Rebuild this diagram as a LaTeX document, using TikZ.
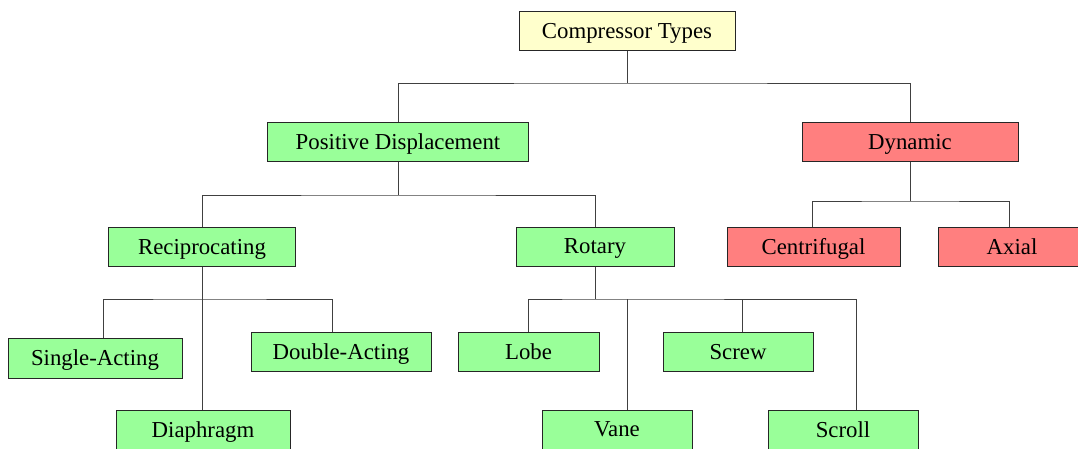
\documentclass[tikz,border=0pt]{standalone}
\usepackage{fontspec}
\setmainfont{Liberation Serif}
\begin{document}
\begin{tikzpicture}[x=1pt,y=-1pt,
  box/.style={draw=black!85, line width=1pt, inner sep=0pt, minimum height=39pt,
    font=\fontsize{22.8}{26}\selectfont, text depth=0pt},
  rootbox/.style={box, fill=yellowbox},
  greenbox/.style={box, fill=greenbox},
  redbox/.style={box, fill=redbox},
  conn/.style={draw=black!75, line width=1pt}]
\definecolor{yellowbox}{HTML}{FFFFCC}
\definecolor{greenbox}{HTML}{99FF99}
\definecolor{redbox}{HTML}{FF7F7F}
\useasboundingbox (0,0) rectangle (1078,448);
\clip (0,0) rectangle (1078,448);
% nodes
\node[rootbox, minimum width=216pt] (root) at (627,30.5) {Compressor Types};
\node[greenbox, minimum width=261pt] (pd) at (398,141.5) {Positive Displacement};
\node[redbox, minimum width=216pt] (dyn) at (910,141.5) {Dynamic};
\node[greenbox, minimum width=187pt] (recip) at (202,246.5) {Reciprocating};
\node[greenbox, minimum width=158pt] (rot) at (595,246.5) {Rotary};
\node[redbox, minimum width=173pt] (cent) at (813.5,246.5) {Centrifugal};
\node[redbox, minimum width=148pt] (axial) at (1012,246.5) {Axial};
\node[greenbox, minimum width=174pt, minimum height=40pt] (single) at (95,358) {Single-Acting};
\node[greenbox, minimum width=180pt] (double) at (341,351.5) {Double-Acting};
\node[greenbox, minimum width=174pt] (diaph) at (203,429.5) {Diaphragm};
\node[greenbox, minimum width=141pt] (lobe) at (528.5,351.5) {Lobe};
\node[greenbox, minimum width=150pt] (vane) at (617,429.5) {Vane};
\node[greenbox, minimum width=150pt] (screw) at (738,351.5) {Screw};
\node[greenbox, minimum width=150pt] (scroll) at (843,429.5) {Scroll};
% connector attachment points
\coordinate (b0) at (root.south |- 0,83);
\coordinate (b1) at (pd.south |- 0,195);
\coordinate (b2) at (dyn.south |- 0,201);
\coordinate (b3) at (recip.south |- 0,299);
\coordinate (b4) at (rot.south |- 0,299);
\coordinate (ct) at ([xshift=-1.5pt]cent.north);
\coordinate (at) at ([xshift=-3pt]axial.north);
\coordinate (st) at ([xshift=8pt]single.north);
\coordinate (dt) at ([xshift=-9pt]double.north);
\coordinate (pt) at (recip.south |- diaph.north);
\coordinate (vt) at ([xshift=10pt]vane.north);
\coordinate (sct) at ([xshift=4pt]screw.north);
\coordinate (slt) at ([xshift=13pt]scroll.north);
% root -> level 1
\draw[conn] (root.south) -- (b0);
\draw[conn] (pd.north) |- (b0) -| (dyn.north);
% positive displacement -> reciprocating / rotary
\draw[conn] (pd.south) -- (b1);
\draw[conn] (recip.north) |- (b1) -| (rot.north);
% dynamic -> centrifugal / axial
\draw[conn] (dyn.south) -- (b2);
\draw[conn] (ct) |- (b2) -| (at);
% reciprocating -> children
\draw[conn] (recip.south) -- (pt);
\draw[conn] (st) |- (b3) -| (dt);
% rotary -> children
\draw[conn] (rot.south) -- (b4);
\draw[conn] (lobe.north) |- (b4) -| (slt);
\draw[conn] (vt |- b4) -- (vt);
\draw[conn] (sct |- b4) -- (sct);
\end{tikzpicture}
\end{document}
